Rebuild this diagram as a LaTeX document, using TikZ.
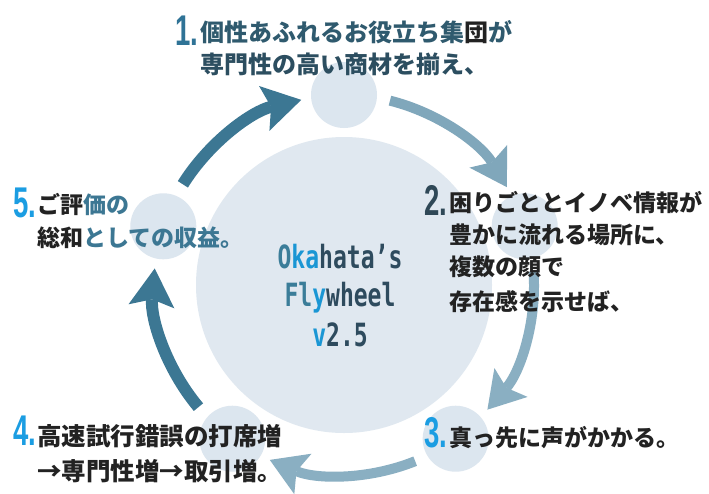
\documentclass[tikz,border=0pt]{standalone}
\usepackage{fontspec}
\usepackage{graphicx}
\usetikzlibrary{arrows.meta,calc}
\newfontfamily\jp{Noto Sans CJK JP}
\newfontfamily\numf{Liberation Sans}
\newfontfamily\monof{DejaVu Sans Mono}
\definecolor{bigc}{HTML}{E0E8F0}
\definecolor{smallc}{HTML}{DCE6EF}
\definecolor{darkarr}{HTML}{3C7793}
\definecolor{lightarr}{HTML}{8AAFC2}
\definecolor{lightarrA}{HTML}{80A7BB}
\definecolor{numteal}{HTML}{2F7396}
\definecolor{numslate}{HTML}{2F4857}
\definecolor{numblue}{HTML}{1B9DE2}
\definecolor{tealtxt}{HTML}{2F5A6E}
\definecolor{tealtxtB}{HTML}{2C4E60}
\definecolor{blacktxt}{HTML}{222222}
\definecolor{midteal}{HTML}{3B7D99}
\definecolor{brightb}{HTML}{1A96D4}
\definecolor{slate}{HTML}{2E4B5E}
\tikzset{
  jptext/.style={anchor=base west, inner sep=0pt, font=\jp\bfseries\fontsize{23}{23}\selectfont, text=blacktxt},
  numtext/.style={anchor=base west, inner sep=0pt, font=\numf\bfseries\fontsize{43}{43}\selectfont},
  ctext/.style={anchor=base, inner sep=0pt, font=\monof\bfseries\fontsize{32}{32}\selectfont},
  smallcircle/.style={circle, fill=smallc, minimum size=66pt, inner sep=0pt},
  darkarrow/.style={draw=darkarr, line width=12pt, -{Stealth[length=38pt,width=46pt,inset=7pt,line width=0pt]}},
  lightarrow/.style={draw=lightarr, line width=10pt, -{Stealth[length=36pt,width=44pt,inset=7pt,line width=0pt]}}
}
\begin{document}
\begin{tikzpicture}[x=1pt,y=1pt]
\fill[white] (0,0) rectangle (709,-493);
\useasboundingbox (0,0) rectangle (709,-493);
\coordinate (O) at (344,-285);
\node[circle, fill=bigc, minimum size=296pt, inner sep=0pt] (big) at (O) {};
\node[smallcircle] (c1) at ($(O)+(90:190)$) {};
\node[smallcircle] (c2) at ($(O)+(18:190)$) {};
\node[smallcircle] (c3) at ($(O)+(-54:190)$) {};
\node[smallcircle] (c4) at ($(O)+(-126:190)$) {};
\node[smallcircle] (c5) at ($(O)+(162:190)$) {};
% arrows
\draw[darkarrow] ($(O)+(148:190)$) arc[start angle=148, end angle=103, radius=190];
\draw[lightarrow, draw=lightarrA] ($(O)+(76:190)$) arc[start angle=76, end angle=31, radius=190];
\draw[lightarrow] ($(O)+(4:190)$) arc[start angle=4, end angle=-41, radius=190];
\draw[lightarrow] ($(O)+(-68:190)$) arc[start angle=-68, end angle=-113, radius=190];
\draw[darkarrow] ($(O)+(-140:190)$) arc[start angle=-140, end angle=-185, radius=190];
% center title
\node[ctext] (title1) at (340,-268) {\scalebox{0.72}[1]{\textcolor{midteal}{O}\textcolor{brightb}{ka}\textcolor{slate}{hata’s}}};
\node[ctext] (title2) at (340,-306) {\scalebox{0.72}[1]{\textcolor{midteal}{Fl}\textcolor{brightb}{y}\textcolor{slate}{wheel}}};
\node[ctext] (title3) at (340,-346) {\scalebox{0.72}[1]{\textcolor{brightb}{v}\textcolor{slate}{2.5}}};
% item 1
\node[numtext, text=numteal] (n1) at (175,-45) {\scalebox{0.64}[1]{1.}};
\node[jptext, text=tealtxt, font=\jp\bfseries\fontsize{24}{24}\selectfont] (t1a) at (200,-41.5) {個性あふれるお役立ち集\textcolor{blacktxt}{団}が};
\node[jptext, text=tealtxtB, font=\jp\bfseries\fontsize{24}{24}\selectfont] (t1b) at (200,-73.5) {専門性の高い商材を揃え、};
% item 2
\node[numtext, text=numslate] (n2) at (424,-215) {\scalebox{0.64}[1]{2.}};
\node[jptext] (t2a) at (449,-211.5) {困りごととイノベ情報が};
\node[jptext] (t2b) at (449,-243.5) {豊かに流れる場所に、};
\node[jptext] (t2c) at (449,-275.5) {複数の顔で};
\node[jptext] (t2d) at (449,-310.5) {存在感を示せば、};
% item 3
\node[numtext, text=numblue] (n3) at (424,-447) {\scalebox{0.64}[1]{3.}};
\node[jptext] (t3) at (449,-446.5) {真っ先に声がかかる。};
% item 4
\node[numtext, text=numblue] (n4) at (13,-445) {\scalebox{0.64}[1]{4.}};
\node[jptext, font=\jp\bfseries\fontsize{24.5}{24.5}\selectfont] (t4a) at (37,-445.5) {高速試行錯誤の打席増};
\node[jptext, font=\jp\bfseries\fontsize{24.5}{24.5}\selectfont] (t4b) at (37,-480.5) {→専門性増→取引増。};
% item 5
\node[numtext, text=numblue] (n5) at (13,-217) {\scalebox{0.64}[1]{5.}};
\node[jptext] (t5a) at (37,-213.5) {ご評\textcolor{darkarr}{価の}};
\node[jptext] (t5b) at (37,-246.5) {総和\textcolor{darkarr}{としての収益。}};
\end{tikzpicture}
\end{document}
